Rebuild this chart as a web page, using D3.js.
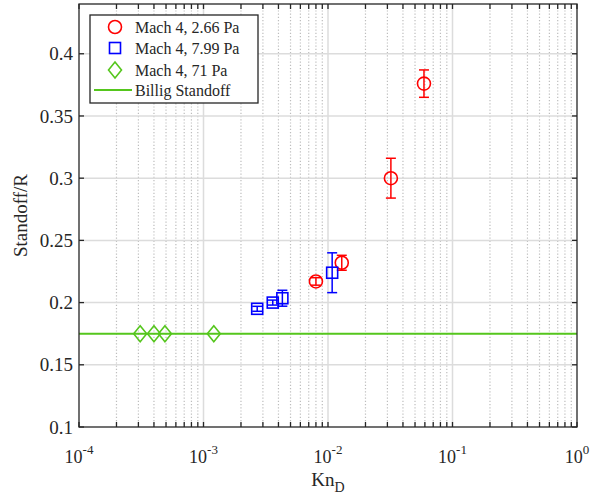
<!DOCTYPE html>
<html><head><meta charset="utf-8">
<script src="https://cdn.jsdelivr.net/npm/d3@7"></script>
<style>body{margin:0;background:#fff;} svg{display:block;} text{font-family:"Liberation Serif","Times New Roman",Tinos,Times,serif;}</style>
</head><body>
<svg id="c" width="591" height="499"></svg>
<script>
// ---- data ----
const redKn  = [0.0080, 0.0129, 0.032, 0.059];
const redY   = [0.217, 0.232, 0.300, 0.376];
const redErr = [0.003, 0.006, 0.016, 0.011];

const blueKn  = [0.0027, 0.0036, 0.0043, 0.0108];
const blueY   = [0.195, 0.200, 0.2035, 0.224];
const blueErr = [0.002, 0.002, 0.0064, 0.016];

const greenKn = [0.00031, 0.00040, 0.00049, 0.00121];
const greenY  = [0.175, 0.175, 0.175, 0.175];

const billigY = 0.175;

const yTicks = [0.1, 0.15, 0.2, 0.25, 0.3, 0.35, 0.4];
const xTicks = [1e-4, 1e-3, 1e-2, 1e-1, 1];
const xTickExp = ["-4", "-3", "-2", "-1", "0"];
const legendLabels = ["Mach 4, 2.66 Pa", "Mach 4, 7.99 Pa", "Mach 4, 71 Pa", "Billig Standoff"];

// ---- chart ----
const RED = "#ff0000", BLUE = "#0000ff", GREEN = "#55c61d", AX = "#262626";
const L = 79, R = 577, T = 4, B = 427;
const svg = d3.select("#c");
const x = d3.scaleLog().domain([1e-4, 1]).range([L, R]);
const y = d3.scaleLinear().domain([0.1, 0.44]).range([B, T]);

// minor x values
const minorX = [];
for (let e = -4; e < 0; e++) for (let m = 2; m <= 9; m++) minorX.push(m * Math.pow(10, e));

const g = svg.append("g");
// minor grid (dotted)
g.selectAll(".mg").data(minorX).enter().append("line")
  .attr("x1", d => x(d)).attr("x2", d => x(d)).attr("y1", T).attr("y2", B)
  .attr("stroke", "#bdbdbd").attr("stroke-width", 1.2).attr("stroke-dasharray", "1.2,2");
// major grid
g.selectAll(".gx").data(xTicks.slice(1, -1)).enter().append("line")
  .attr("x1", d => x(d)).attr("x2", d => x(d)).attr("y1", T).attr("y2", B)
  .attr("stroke", "#dcdcdc").attr("stroke-width", 1.5);
g.selectAll(".gy").data(yTicks.slice(1)).enter().append("line")
  .attr("x1", L).attr("x2", R).attr("y1", d => y(d)).attr("y2", d => y(d))
  .attr("stroke", "#dcdcdc").attr("stroke-width", 1.5);

// Billig line
g.append("line").attr("x1", L).attr("x2", R).attr("y1", y(billigY)).attr("y2", y(billigY))
  .attr("stroke", GREEN).attr("stroke-width", 2);

// error bars
function errBars(kn, yy, err, color, cap) {
  const grp = g.append("g").attr("stroke", color).attr("stroke-width", 1.5).attr("fill", "none");
  kn.forEach((k, i) => {
    const cx = x(k), y1 = y(yy[i] - err[i]), y2 = y(yy[i] + err[i]);
    grp.append("line").attr("x1", cx).attr("x2", cx).attr("y1", y1).attr("y2", y2);
    grp.append("line").attr("x1", cx - cap).attr("x2", cx + cap).attr("y1", y1).attr("y2", y1);
    grp.append("line").attr("x1", cx - cap).attr("x2", cx + cap).attr("y1", y2).attr("y2", y2);
  });
}
errBars(redKn, redY, redErr, RED, 5);
errBars(blueKn, blueY, blueErr, BLUE, 5);

// markers
const circ = (sel, cx, cy) => sel.append("circle").attr("cx", cx).attr("cy", cy).attr("r", 6.5)
  .attr("fill", "none").attr("stroke", RED).attr("stroke-width", 1.6);
const sq = (sel, cx, cy) => sel.append("rect").attr("x", cx - 5.5).attr("y", cy - 5.5).attr("width", 11).attr("height", 11)
  .attr("fill", "none").attr("stroke", BLUE).attr("stroke-width", 1.6);
const dia = (sel, cx, cy) => sel.append("path")
  .attr("d", `M${cx},${cy - 8}L${cx + 6.5},${cy}L${cx},${cy + 8}L${cx - 6.5},${cy}Z`)
  .attr("fill", "none").attr("stroke", GREEN).attr("stroke-width", 1.6);

redKn.forEach((k, i) => circ(g, x(k), y(redY[i])));
blueKn.forEach((k, i) => sq(g, x(k), y(blueY[i])));
greenKn.forEach((k, i) => dia(g, x(k), y(greenY[i])));

// axes box
const ax = svg.append("g").attr("stroke", AX).attr("stroke-width", 1.3).attr("fill", "none");
ax.append("rect").attr("x", L).attr("y", T).attr("width", R - L).attr("height", B - T);
const tl = 5;
xTicks.concat(minorX).forEach(d => {
  ax.append("line").attr("x1", x(d)).attr("x2", x(d)).attr("y1", B).attr("y2", B - tl);
  ax.append("line").attr("x1", x(d)).attr("x2", x(d)).attr("y1", T).attr("y2", T + tl);
});
yTicks.forEach(d => {
  ax.append("line").attr("x1", L).attr("x2", L + tl).attr("y1", y(d)).attr("y2", y(d));
  ax.append("line").attr("x1", R).attr("x2", R - tl).attr("y1", y(d)).attr("y2", y(d));
});

// y tick labels
svg.append("g").selectAll("text").data(yTicks).enter().append("text")
  .attr("x", L - 6).attr("y", d => y(d)).attr("dy", "0.35em")
  .attr("text-anchor", "end").attr("font-size", 19).attr("fill", AX)
  .text(d => String(d));
// x tick labels
const xl = svg.append("g").attr("fill", AX);
xTicks.forEach((d, i) => {
  const t = xl.append("text").attr("x", x(d)).attr("y", 463).attr("text-anchor", "middle").attr("font-size", 18);
  t.append("tspan").text("10");
  t.append("tspan").attr("dy", -9).attr("font-size", 13).text(xTickExp[i]);
});
// axis titles
const xt = svg.append("text").attr("x", (L + R) / 2).attr("y", 486).attr("text-anchor", "middle")
  .attr("font-size", 19).attr("fill", AX);
xt.append("tspan").text("Kn");
xt.append("tspan").attr("dy", 6).attr("font-size", 14).text("D");
svg.append("text").attr("transform", `translate(27,${(T + B) / 2}) rotate(-90)`)
  .attr("text-anchor", "middle").attr("font-size", 19).attr("fill", AX)
  .text("Standoff/R");

// legend
const lg = svg.append("g");
lg.append("rect").attr("x", 90).attr("y", 15).attr("width", 168).attr("height", 88)
  .attr("fill", "#fff").attr("stroke", AX).attr("stroke-width", 1.3);
const rows = [27, 48, 70, 90];
circ(lg, 115, rows[0]);
sq(lg, 115, rows[1]);
dia(lg, 115, rows[2]);
lg.append("line").attr("x1", 94).attr("x2", 132).attr("y1", rows[3]).attr("y2", rows[3])
  .attr("stroke", GREEN).attr("stroke-width", 2);
legendLabels.forEach((s, i) => lg.append("text").attr("x", 135).attr("y", rows[i]).attr("dy", "0.35em")
  .attr("font-size", 16).attr("fill", AX).text(s));
</script>
</body></html>
